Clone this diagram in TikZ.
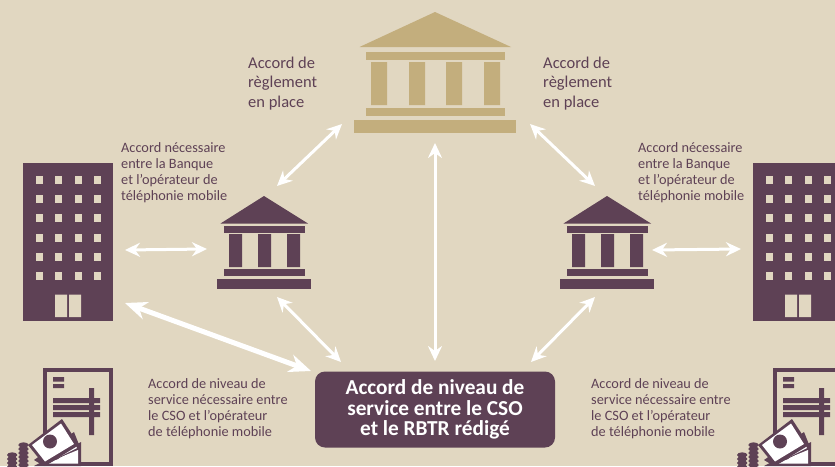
\documentclass[tikz,border=0pt]{standalone}
\usepackage{fontspec}
\setmainfont{Carlito}
\usetikzlibrary{arrows.meta}
\definecolor{bgc}{HTML}{E1D7C1}
\definecolor{dark}{HTML}{5E4155}
\definecolor{tan}{HTML}{C3AE7D}
\tikzset{
  x=1pt,y=-1pt,
  twoway/.style={draw=white,line width=3pt,{Stealth[length=15pt,width=14pt,inset=5pt]}-{Stealth[length=15pt,width=14pt,inset=5pt]}},
  bigway/.style={draw=white,line width=5pt,{Stealth[length=22pt,width=18pt,inset=7pt]}-{Stealth[length=22pt,width=18pt,inset=7pt]}},
  biglabel/.style={text=dark,anchor=west,align=left,inner sep=0pt,font=\fontsize{16.5}{19.5}\selectfont},
  midlabel/.style={text=dark,anchor=west,align=left,inner sep=0pt,font=\fontsize{14.3}{15.9}\selectfont},
  doc/.pic={
    \draw[dark,line width=4pt] (44.5,370) rectangle (110.5,464);
    \fill[dark] (53,377) rectangle (64,381.5) (53,384) rectangle (64,388);
    \fill[dark] (53,398) rectangle (100,403) (53,405) rectangle (100,410) (53,412) rectangle (100,417) (89,388) rectangle (94,435);
    % stacked coins
    \foreach \yy in {445,449,453,457,461,465} {\fill[dark] (23.5,\yy) ellipse (5.2 and 2.7);\draw[bgc,line width=.5pt] (18.5,\yy+1.4) arc[start angle=180,end angle=360,x radius=5,y radius=-1.6];}
    \foreach \yy in {455,459,463,467} {\fill[dark] (12.2,\yy) ellipse (5.2 and 2.7);\draw[bgc,line width=.5pt] (7.2,\yy+1.4) arc[start angle=180,end angle=360,x radius=5,y radius=-1.6];}
    % notes, back to front
    \fill[dark] (34,466) -- (81,442) -- (81,466) -- cycle;
    \fill[white] (45,463.5) -- (78,450) -- (78,463.5) -- cycle;
    \fill[dark] (52,458) ellipse (7 and 2);
    \fill[dark] (34,460) -- (74,432) -- (80,447) -- (44,466) -- cycle;
    \fill[white] (43,459) -- (72,439) -- (77,448) -- (47,463) -- cycle;
    \fill[dark] (58,451) ellipse (6.5 and 3);
    \fill[dark] (28,445) -- (62,419) -- (79,445) -- (45,466) -- cycle;
    \fill[white] (32,445) -- (61,423.5) -- (74,444) -- (45,461.5) -- cycle;
    \fill[dark] (50,441.5) circle (7);
  }
}
\newcommand{\bigbank}[2]{%
  \fill[#2] (#1-75.5,47) -- (#1,12) -- (#1+76,47) -- cycle;
  \fill[#2] (#1-69,52) rectangle (#1+70,60);
  \fill[#2] (#1-64,62) rectangle (#1-48,105) (#1-26,62) rectangle (#1-10,105) (#1+11,62) rectangle (#1+27,105) (#1+49,62) rectangle (#1+65,105);
  \fill[#2] (#1-69,108) rectangle (#1+70,116);
  \fill[#2] (#1-81,120) rectangle (#1+81,133);
}
\newcommand{\smallbank}[1]{%
  \fill[dark] (#1-43.5,223.5) -- (#1,196) -- (#1+44,223.5) -- cycle;
  \fill[dark] (#1-40,226) rectangle (#1+41,233);
  \fill[dark] (#1-35,234) rectangle (#1-22,267) (#1-6,234) rectangle (#1+7,267) (#1+23,234) rectangle (#1+36,267);
  \fill[dark] (#1-40,269) rectangle (#1+41,276);
  \fill[dark] (#1-47,279) rectangle (#1+47,289);
}
\newcommand{\tower}[1]{%
  \begin{scope}[xshift=#1]
  \fill[dark] (23,163) rectangle (113,321);
  \foreach \xx in {35.5,55,74.5,94} \foreach \yy in {176,195,214,233.5,253,272} {
    \fill[bgc] (\xx,\yy) rectangle (\xx+7,\yy+8);
  }
  \fill[bgc] (55,294.5) rectangle (67,317) (69,294.5) rectangle (81,317);
  \end{scope}
}
\begin{document}
\begin{tikzpicture}
\useasboundingbox (0,0) rectangle (835,466);
\fill[bgc] (0,0) rectangle (835,466);
\clip (0,0) rectangle (835,466);

\bigbank{435}{tan}
\smallbank{264}
\smallbank{607}
\tower{0pt}
\tower{730pt}
\pic at (0,0) {doc};
\pic at (730,0) {doc};

% anchors of the connectors
\coordinate (bankSW) at (342,124);
\coordinate (bankSE) at (530,124);
\coordinate (bankS) at (435,143);
\coordinate (leftN) at (277,186);
\coordinate (rightN) at (595,186);
\coordinate (leftW) at (207,249);
\coordinate (rightE) at (652,250);
\coordinate (towerLE) at (125,250);
\coordinate (towerRW) at (741,249);
\coordinate (towerLS) at (125,303);
\coordinate (leftS) at (277,297);
\coordinate (rightS) at (595,297);

\node[fill=dark,rounded corners=10pt,minimum width=240pt,minimum height=76pt,inner sep=0pt,text=white,align=center,font=\fontsize{21.3}{20.7}\selectfont\bfseries] (sla) at (435,409.5) {Accord de niveau de\\service entre le CSO\\et le RBTR rédigé};
\coordinate (slaN) at (435,361);
\coordinate (slaNW) at (341,362);
\coordinate (slaNE) at (531,362);
\coordinate (slaWW) at (311,371);

\draw[twoway] (bankSW) -- (leftN);
\draw[twoway] (bankSE) -- (rightN);
\draw[twoway] (bankS) -- (slaN);
\draw[twoway] (towerLE) -- (leftW);
\draw[twoway] (rightE) -- (towerRW);
\draw[bigway] (towerLS) -- (slaWW);
\draw[twoway] (leftS) -- (slaNW);
\draw[twoway] (rightS) -- (slaNE);

\node[biglabel] (t1) at (248,83.5) {Accord de\\règlement\\en place};
\node[biglabel] (t2) at (543,83.5) {Accord de\\règlement\\en place};
\node[midlabel] (t3) at (121,172.5) {Accord nécessaire\\entre la Banque\\et l'opérateur de\\téléphonie mobile};
\node[midlabel] (t4) at (638,172.5) {Accord nécessaire\\entre la Banque\\et l'opérateur de\\téléphonie mobile};
\node[midlabel] (t5) at (148,408.5) {Accord de niveau de\\service nécessaire entre\\le CSO et l'opérateur\\de téléphonie mobile};
\node[midlabel] (t6) at (591,408.5) {Accord de niveau de\\service nécessaire entre\\le CSO et l'opérateur\\de téléphonie mobile};
\end{tikzpicture}
\end{document}
